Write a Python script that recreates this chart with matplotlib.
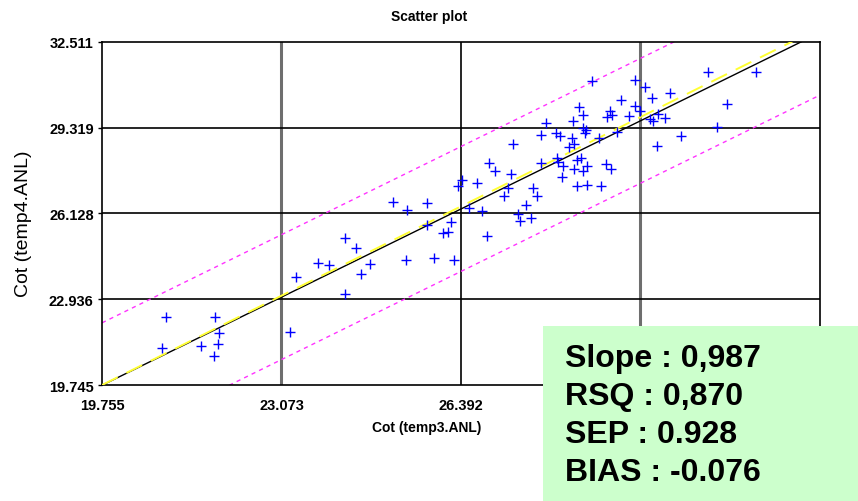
import numpy as np
import matplotlib.pyplot as plt
from matplotlib.patches import Rectangle

# ============================================================
# DATA - values
# ============================================================

x_ticks = [19.755, 23.073, 26.392, 29.710, 33.029]
y_ticks = [19.745, 22.936, 26.128, 29.319, 32.511]

# Cot (temp3.ANL) vs Cot (temp4.ANL)
x_vals = [
    20.944, 21.839, 21.918, 20.859, 21.591, 21.894, 21.820, 23.225, 23.347, 23.748,
    23.952, 24.242, 24.456, 24.242, 24.710, 24.543, 25.381, 25.893, 26.257, 26.867,
    26.065, 26.157, 26.213, 25.769, 25.140, 25.388, 25.769, 26.337, 26.405, 26.682,
    26.546, 26.775, 26.910, 27.026, 27.311, 27.353, 27.256, 27.187, 27.718, 27.792,
    27.594, 27.440, 27.477, 27.681, 27.877, 27.964, 27.866, 28.148, 28.228, 28.161,
    28.185, 28.272, 28.259, 28.487, 28.653, 28.531, 28.716, 28.980, 29.078, 29.171,
    28.394, 28.439, 28.476, 28.542, 28.605, 28.716, 28.468, 28.579, 28.642, 28.648,
    28.698, 28.690, 28.814, 28.938, 29.097, 29.152, 29.189, 29.350, 29.493, 29.615,
    29.603, 29.701, 29.794, 29.923, 29.886, 30.040, 29.936, 30.169, 30.256, 30.021,
    30.465, 30.959, 31.840, 31.304, 31.119, 29.282,
]
y_vals = [
    22.294, 22.294, 21.688, 21.131, 21.194, 21.268, 20.822, 21.714, 23.758, 24.300,
    24.215, 25.207, 24.857, 23.148, 24.241, 23.880, 24.389, 24.463, 24.389, 25.303,
    25.404, 25.430, 25.812, 25.701, 26.544, 26.258, 26.507, 27.161, 27.384, 27.250,
    26.344, 26.221, 28.015, 27.718, 27.584, 28.710, 27.087, 26.767, 27.087, 26.767,
    26.444, 26.121, 25.849, 25.972, 28.004, 29.479, 29.045, 29.119, 29.007, 28.201,
    28.030, 27.904, 27.495, 27.781, 27.707, 27.161, 27.176, 27.139, 27.978, 27.781,
    28.588, 28.915, 28.699, 28.127, 28.179, 27.904, 29.576, 30.074, 29.788, 29.316,
    29.219, 29.119, 31.040, 28.933, 29.702, 29.948, 29.788, 30.345, 29.739, 31.088,
    30.111, 29.948, 30.839, 30.430, 29.639, 29.836, 29.576, 29.687, 30.605, 28.625,
    28.996, 31.385, 31.385, 30.196, 29.342, 29.167,
]

slope, intercept = 0.987, 0.247
band = 2.32   # half-width of the dashed prediction band

stats_lines = ["Slope : 0,987", "RSQ : 0,870", "SEP : 0.928", "BIAS : -0.076"]


# ============================================================
# FIGURE
# ============================================================

fig = plt.figure(figsize=(8.58, 5.02), dpi=100)
ax = fig.add_axes([0.1189, 0.2305, 0.8368, 0.6845])

xmin, xmax = x_ticks[0], x_ticks[-1]
ymin, ymax = y_ticks[0], y_ticks[-1]
ax.set_xlim(xmin, xmax)
ax.set_ylim(ymin, ymax)

# grid lines (the two outer vertical ones render grey in the original)
for i, xt in enumerate(x_ticks[1:-1]):
    if i == 1:
        ax.axvline(xt, color="black", lw=1.2, zorder=1)
    else:
        ax.axvline(xt, color="#6e6e6e", lw=2.2, zorder=1)
for yt in y_ticks[1:-1]:
    ax.axhline(yt, color="black", lw=1.2, zorder=1)

xs = np.array([xmin, xmax])
ax.plot(xs, slope * xs + intercept, color="black", lw=1.0, zorder=2)
ax.plot(xs, xs, color="#ffff33", lw=1.4, dashes=(9, 5), zorder=3)
ax.plot(xs, slope * xs + intercept + band, color="#ff33ff", lw=1.0,
        dashes=(3, 3), zorder=2)
ax.plot(xs, slope * xs + intercept - band, color="#ff33ff", lw=1.0,
        dashes=(3, 3), zorder=2)

ax.plot(x_vals, y_vals, "+", color="#0000ff", ms=7, mew=1.0, zorder=4)

ax.set_xticks(x_ticks)
ax.set_yticks(y_ticks)
ax.set_xticklabels([f"{v:.3f}" for v in x_ticks], fontweight="bold", fontsize=10.5,
                   family="Liberation Sans")
ax.set_yticklabels([f"{v:.3f}" for v in y_ticks], fontweight="bold", fontsize=10.5,
                   family="Liberation Sans")
ax.tick_params(axis="x", length=0, pad=9)
ax.tick_params(axis="y", length=3, width=1, pad=3)
for s in ax.spines.values():
    s.set_linewidth(1.2)

fig.text(0.5, 1 - 17 / 502, "Scatter plot", ha="center", va="center",
         fontsize=10, fontweight="bold", family="Liberation Sans")
fig.text(0.497, 1 - 428 / 502, "Cot (temp3.ANL)", ha="center", va="center",
         fontsize=10, fontweight="bold", family="Liberation Sans")
fig.text(24 / 858, 1 - 224 / 502, "Cot (temp4.ANL)", ha="center", va="center",
         rotation=90, fontsize=14, family="Liberation Sans")

# statistics box in the lower right corner
fig.patches.append(Rectangle((543 / 858, 0), 315 / 858, 175 / 502,
                             transform=fig.transFigure, facecolor="#ccffcc",
                             edgecolor="none", zorder=10))
for k, line in enumerate(stats_lines):
    fig.text(565 / 858, 1 - (367 + 38 * k) / 502, line, ha="left",
             va="baseline", fontsize=23, fontweight="bold",
             family="Liberation Sans", zorder=11)

plt.savefig("out.png", dpi=100)
